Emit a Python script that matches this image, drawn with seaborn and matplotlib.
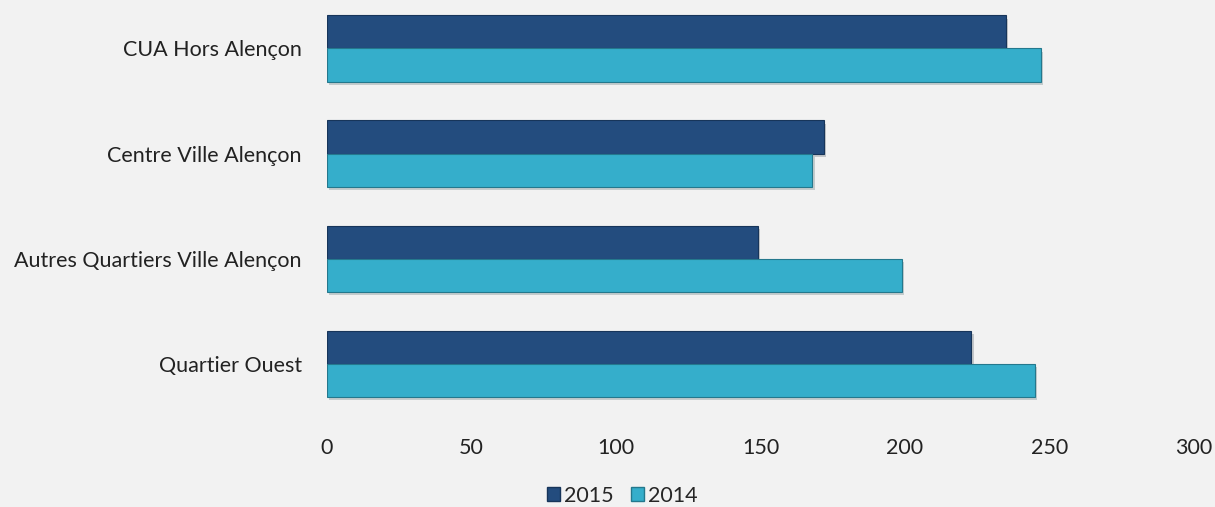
import numpy as np
import pandas as pd
import matplotlib
matplotlib.use("Agg")
import matplotlib.pyplot as plt
import matplotlib.patheffects as pe
import seaborn as sns

categories = ["CUA Hors Alençon", "Centre Ville Alençon",
              "Autres Quartiers Ville Alençon", "Quartier Ouest"]
years = ["2015", "2014"]
values_2015 = [235, 172, 149, 223]
values_2014 = [247, 168, 199, 245]
xticks = [0, 50, 100, 150, 200, 250, 300]

colors = {"2015": "#234C7E", "2014": "#35AECB"}
edges = {"2015": "#17355A", "2014": "#24788D"}

df = pd.DataFrame({
    "cat": categories * 2,
    "year": ["2015"] * 4 + ["2014"] * 4,
    "value": values_2015 + values_2014,
})

sns.set_style("white")
plt.rcParams["font.family"] = ["Lato", "DejaVu Sans"]

fig = plt.figure(figsize=(12.15, 5.07), dpi=100, facecolor="#F2F2F2")
ax = fig.add_axes([0.2691, 0.179, 0.7136, 0.829])
ax.set_facecolor("#F2F2F2")

sns.barplot(data=df, y="cat", x="value", hue="year", hue_order=years,
            order=categories, orient="h", width=0.63, palette=colors,
            saturation=1, ax=ax, legend=False)

for year, cont in zip(years, ax.containers):
    for bar in cont:
        bar.set_edgecolor(edges[year])
        bar.set_linewidth(0.8)
        bar.set_path_effects([pe.SimplePatchShadow(offset=(1.5, -2.5), alpha=0.2),
                              pe.Normal()])

ax.set_xlim(0, 300)
ax.set_xticks(xticks)
ax.set_xlabel("")
ax.set_ylabel("")
for s in ax.spines.values():
    s.set_visible(False)
ax.tick_params(axis="x", length=0, pad=16, labelsize=15.5, colors="#222222")
ax.tick_params(axis="y", length=0, pad=18, labelsize=15.5, colors="#222222")

handles = [plt.Rectangle((0, 0), 1, 1, facecolor=colors[y], edgecolor=edges[y])
           for y in years]
fig.legend(handles, years, loc="center", bbox_to_anchor=(0.512, 0.022),
           ncol=2, frameon=False, fontsize=15.5, handlelength=0.6,
           handleheight=0.6, handletextpad=0.2, columnspacing=0.8)

fig.savefig("out.png", dpi=100, facecolor=fig.get_facecolor())
